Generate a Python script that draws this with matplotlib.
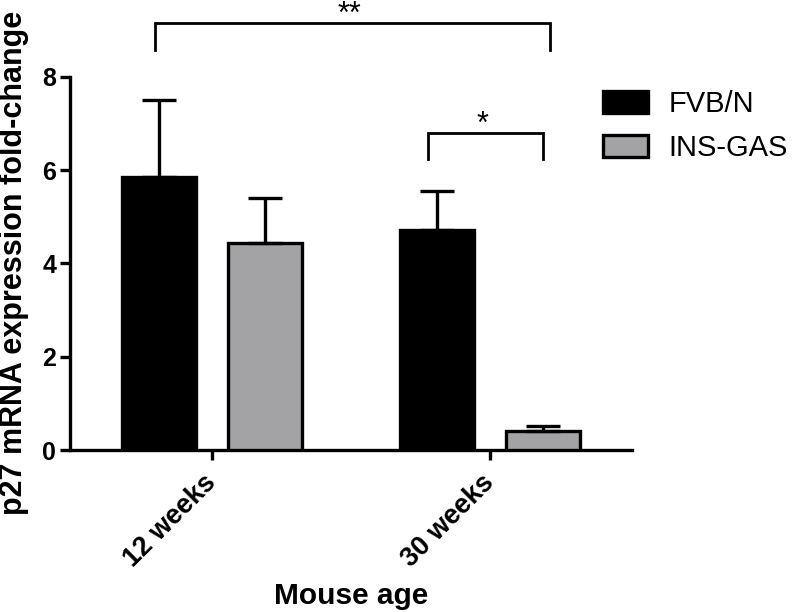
import numpy as np
import matplotlib.pyplot as plt

plt.rcParams['font.family'] = ['Liberation Sans', 'DejaVu Sans']

# 数据
ages = ['12 weeks', '30 weeks']
groups = ['FVB/N', 'INS-GAS']
fvb_mean = [5.86, 4.71]
fvb_sem = [1.64, 0.85]
ins_mean = [4.44, 0.41]
ins_sem = [0.95, 0.10]
colors = ['#000000', '#a3a3a6']

x = np.arange(len(ages))
w = 0.265
off = 0.19

fig = plt.figure(figsize=(7.92, 6.12), dpi=100)
ax = fig.add_axes([70 / 792, 1 - 450 / 612, 562 / 792, 373.3 / 612])

lw = 2.4
err_kw = dict(elinewidth=lw, capthick=lw, capsize=12, ecolor='black')
ax.bar(x - off, fvb_mean, w, yerr=[np.zeros(2), fvb_sem], color=colors[0],
       edgecolor='black', linewidth=lw, label=groups[0], error_kw=err_kw, zorder=3)
ax.bar(x + off, ins_mean, w, yerr=[np.zeros(2), ins_sem], color=colors[1],
       edgecolor='black', linewidth=lw, label=groups[1], error_kw=err_kw, zorder=3)

ax.set_xlim(-0.51, 1.51)
ax.set_ylim(0, 8)
ax.set_yticks([0, 2, 4, 6, 8])
ax.set_xticks(x)
ax.set_xticklabels(ages, rotation=45, ha='right', va='center', rotation_mode='anchor',
                   fontsize=19.5, fontweight='bold')
for t in ax.get_yticklabels():
    t.set_fontsize(18)
    t.set_fontweight('bold')
ax.tick_params(width=lw, length=7)
ax.tick_params(axis='y', pad=3)
ax.tick_params(axis='x', pad=14)
for s in ['top', 'right']:
    ax.spines[s].set_visible(False)
for s in ['left', 'bottom']:
    ax.spines[s].set_linewidth(lw)

ax.set_ylabel('p27 mRNA expression fold-change', fontsize=22, fontweight='bold')
ax.yaxis.set_label_coords(-0.073, 0.5)
ax.set_xlabel('Mouse age', fontsize=21.5, fontweight='bold')
ax.xaxis.set_label_coords(0.5, -0.353)

# 显著性标记
def bracket(x1, x2, ytop, ybot, label):
    ax.plot([x1, x1, x2, x2], [ybot, ytop, ytop, ybot], color='black',
            lw=2, clip_on=False, solid_joinstyle='miter')
    ax.text((x1 + x2) / 2 - 0.01, ytop, label, ha='center', va='baseline',
            fontsize=22, clip_on=False)

bracket(-0.205, 1.215, 9.15, 8.57, '**')
bracket(0.777, 1.19, 6.79, 6.24, '*')

leg = ax.legend(loc='upper left', bbox_to_anchor=(603 / 792, 1 - 90 / 612),
                bbox_transform=fig.transFigure, frameon=False, fontsize=21,
                handlelength=1.55, handleheight=0.8, handletextpad=0.7,
                labelspacing=0.55, borderpad=0, borderaxespad=0)

fig.savefig('out.png', dpi=100)
